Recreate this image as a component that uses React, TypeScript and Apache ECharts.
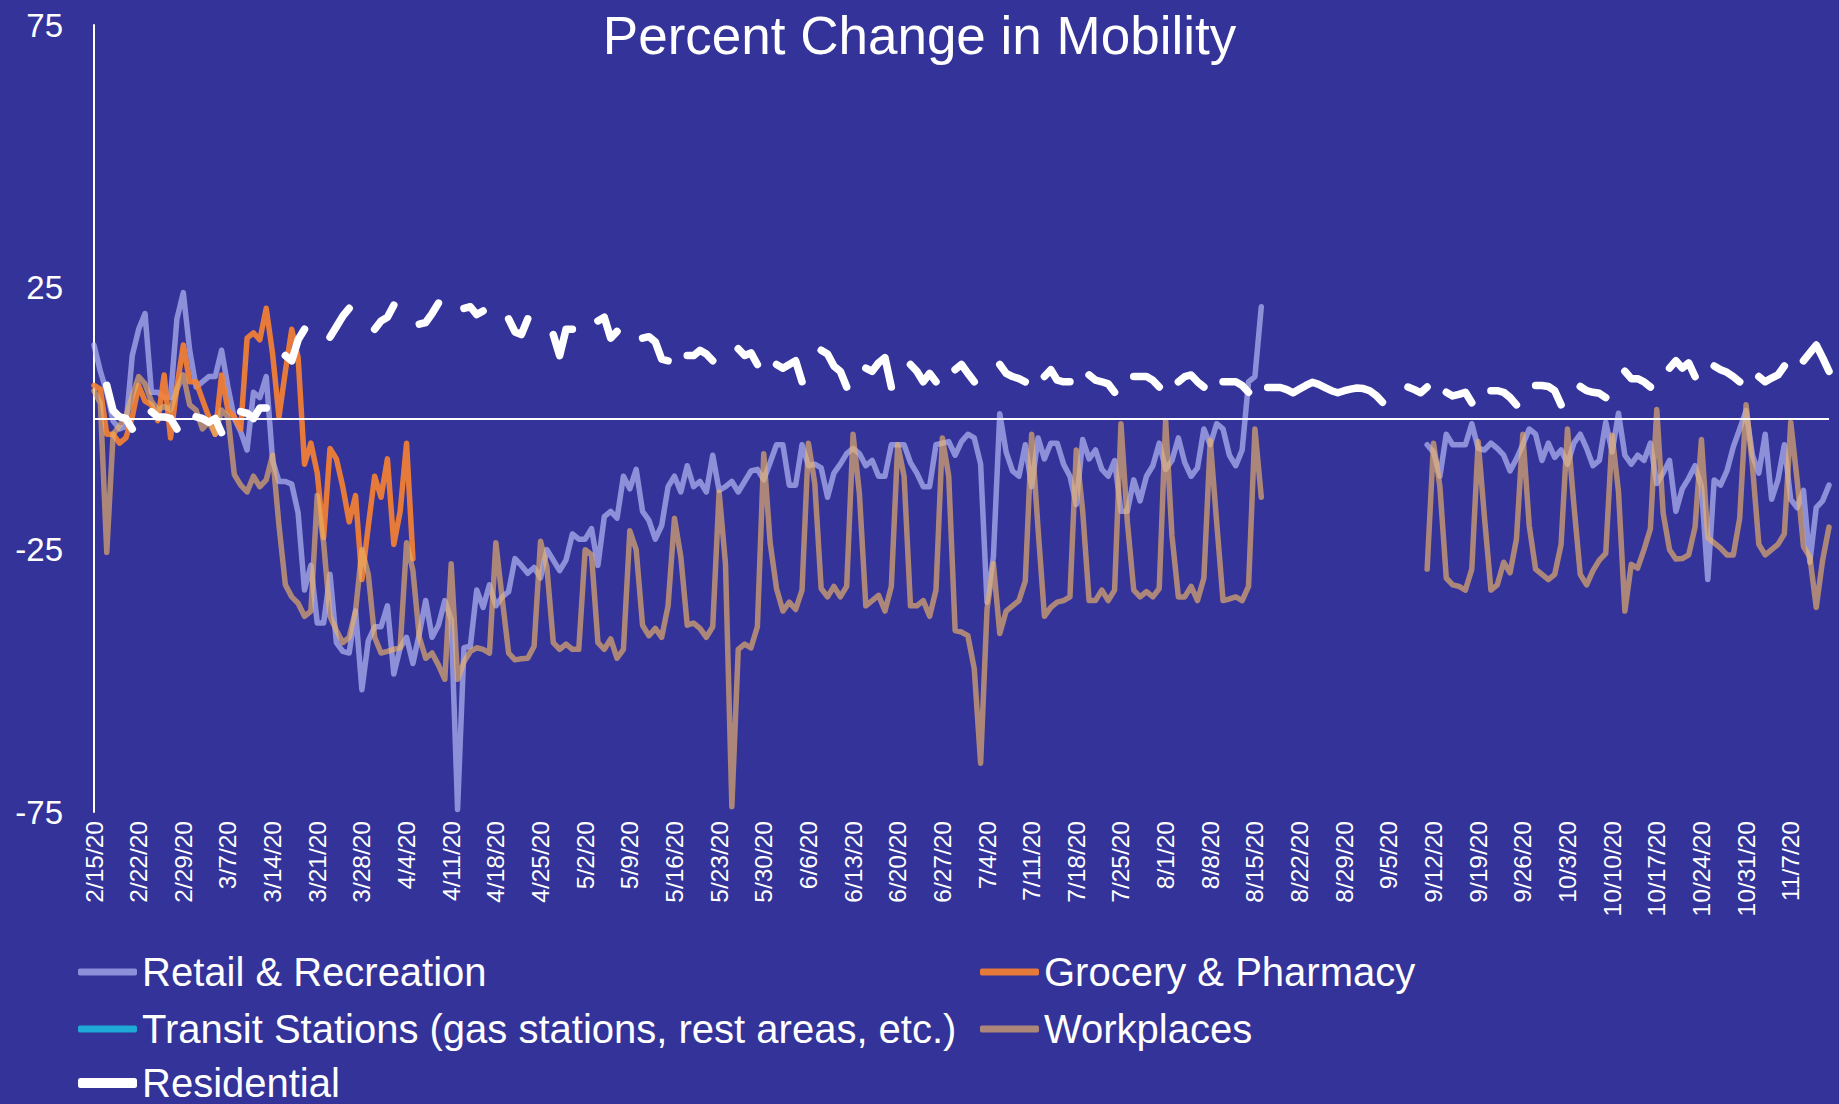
import React, { useEffect, useRef } from 'react';
import * as echarts from 'echarts';

// ---------- categories (daily, 2/15/20 .. 11/13/20) ----------
const DAY_COUNT = 273;
const dates: string[] = Array.from({ length: DAY_COUNT }, (_, i) => {
  const d = new Date(2020, 1, 15 + i);
  return `${d.getMonth() + 1}/${d.getDate()}/20`;
});

// ---------- series values (one row = one week, Sat..Fri) ----------
const retail: (number | null)[] = [
  14, 9, 5, -0.5, -2, -1.5, 12,
  17, 20, 5, 5, 4, 4, 19,
  24, 13, 6, 7, 8, 8, 13,
  6, 0, -2.5, -6, 5, 4, 8,
  -8, -12, -12, -12.5, -18, -32.7, -28,
  -39, -39, -29.7, -42.7, -44.4, -44.7, -36.7,
  -51.7, -42.4, -39.7, -39.7, -35.7, -48.7, -43.7,
  -41.7, -46.7, -41, -34.7, -41.7, -39.4, -34.7,
  -38.4, -74.5, -43.7, -43.4, -32.7, -36, -31.7,
  -35.7, -34, -33, -26.7, -28, -29.5, -28.4,
  -30.4, -25, -27, -29, -27, -22, -23,
  -23, -21, -28, -18.7, -17.7, -19, -11,
  -13.4, -9.7, -17.7, -19.4, -23, -20.4, -13,
  -11, -14, -9, -13, -12, -14, -7,
  -13.7, -13, -12, -14, -12, -10, -9.7,
  -11.7, -8.4, -5, -5, -12.7, -12.7, -5,
  -9, -8.7, -9.4, -15, -10.4, -8.7, -6.7,
  -5.7, -6.7, -9, -8, -11, -11, -5,
  -5, -5, -8.4, -10.4, -13, -13, -5,
  -4.7, -4.4, -7, -4.4, -3, -3.7, -8.7,
  -35, -26.4, 0.9, -6.4, -10, -11, -5,
  -13, -3.7, -7.7, -4.7, -4.7, -8.7, -11,
  -16.4, -4, -7.7, -6, -9.7, -11, -8,
  -17.7, -17.7, -11.7, -15.7, -11, -9, -4.7,
  -9.7, -8, -3.7, -8.4, -11, -9.4, -2,
  -5, -1, -2, -7, -9, -6, 7,
  8, 21.3, null, null, null, null, null,
  null, null, null, null, null, null, null,
  null, null, null, null, null, null, null,
  null, null, null, null, null, null, -5,
  -6.4, -11, -3, -5, -5, -5, -1,
  -5.7, -6, -4.7, -5.7, -7, -10, -7.7,
  -5, -2, -3, -8, -4.7, -7.4, -6,
  -8.7, -4.7, -3, -5.7, -9, -8, -0.7,
  -6.4, 1, -7, -8.7, -7, -8, -4.7,
  -12.4, -10.4, -8, -17.7, -13.4, -11.4, -9,
  -13, -30.7, -11.7, -12.7, -10, -5.4, -2,
  1.5, -7, -10.4, -3, -15.4, -11.7, -5,
  -15.4, -17, -13.7, -27.4, -17, -15.7, -12.7,
];

const grocery: (number | null)[] = [
  6.3, 5.6, -3, -3, -4.7, -3.7, 0.3,
  6.3, 3.3, 2.6, -0.4, 8.3, -3.7, 6,
  14, 7, 7, 3.6, 0.3, -3, 8.3,
  1.6, 0.3, -2, 15.3, 16.3, 15, 21,
  12.3, 0.3, 9, 17, 11.6, -8.7, -4.7,
  -10.4, -22.7, -5.7, -7.7, -13, -19.7, -14.7,
  -30.7, -20.5, -11, -15, -7.7, -24, -17.7,
  -4.7, -26.7,
];

const transit: (number | null)[] = [];

const workplaces: (number | null)[] = [
  5.3, 2.9, -25.5, -3, -1.4, 0.3, 4.3,
  8, 6.6, 3.3, 1.6, 2.3, 1.6, 5.6,
  8.3, 2.6, 1.6, -2, -0.7, -3, 1.6,
  0.3, -10.7, -12.7, -14, -11, -13, -11.7,
  -7, -20.4, -31.7, -34, -35.2, -37.7, -36.7,
  -14.7, -23.7, -37.7, -40.4, -42.7, -41.7, -36.7,
  -25, -29.7, -41.7, -44.7, -44.4, -44, -43.7,
  -23.7, -29, -41.7, -45.7, -44.7, -47, -49.7,
  -27.7, -49.7, -46.4, -44.4, -43.7, -44, -44.7,
  -23.7, -34.4, -44.7, -46, -45.8, -45.7, -43.4,
  -23.4, -28.4, -42.7, -44, -43, -44, -44,
  -25, -26, -42.7, -44, -42, -45.7, -44,
  -21.4, -25, -39.4, -41.4, -40, -41.7, -35.7,
  -19, -26.4, -39.4, -39, -40, -41.7, -39.7,
  -14, -27.7, -74, -44, -43, -43.7, -39.7,
  -6.7, -23.7, -32.4, -36.7, -35, -36.4, -32.7,
  -4.7, -12.4, -32.4, -34, -32, -34, -32,
  -3, -14.4, -35.7, -34.7, -33.7, -36.7, -32,
  -5, -11, -35.7, -35.7, -34.7, -37.7, -32.7,
  -3.7, -11, -40.4, -40.7, -41.4, -47.7, -65.7,
  -36.4, -27.7, -41, -36.7, -35.7, -34.7, -31,
  -3, -21, -37.7, -36, -35, -34.7, -34,
  -6, -17.7, -34.7, -34.7, -32.7, -34.7, -32.7,
  -1, -19.7, -32.7, -34, -33, -34, -32.4,
  -0.4, -22.4, -34, -34, -32, -34.7, -30.4,
  -4.2, -19.7, -34.7, -34.4, -34, -34.7, -32,
  -2, -15, null, null, null, null, null,
  null, null, null, null, null, null, null,
  null, null, null, null, null, null, null,
  null, null, null, null, null, null, -28.7,
  -4.7, -13, -30.4, -31.7, -32, -32.7, -28.7,
  -4.4, -19, -32.7, -31.7, -27.4, -29.4, -23,
  -3, -20.4, -28.7, -29.7, -30.7, -29.7, -24,
  -2, -16.4, -29.7, -31.7, -29, -27, -25.7,
  -3.2, -14, -36.7, -27.8, -28.5, -25, -21,
  1.7, -18, -25, -26.8, -26.7, -26, -20.7,
  -4, -22.7, -23.7, -24.7, -26, -26, -19,
  2.6, -9, -24, -26, -25, -24, -22,
  -0.7, -11.7, -24.4, -26.4, -36, -27, -20.7,
];

const residential: (number | null)[] = [
  null, null, 6.3, 1.5, 0.3, 0, -2,
  null, null, 1.3, 0.3, 0.3, 0, -2,
  null, null, 0.3, 0, -0.7, 0, -2.7,
  null, null, 1.3, 1, 0, 2, 2,
  null, null, 12, 11, 15, 17, null,
  null, null, 15.5, 17.5, 19.5, 21, null,
  null, null, 17, 18.6, 19.3, 21.6, null,
  null, null, 18, 18.3, 20, 22, null,
  null, null, 21, 21.3, 19.8, 20.5, null,
  null, null, 19, 16.5, 16, 19, null,
  null, null, 16, 12, 17, 17, null,
  null, null, 18.6, 19.3, 15.3, 16.6, null,
  null, null, 15.3, 15.6, 14.6, 11.3, 11,
  null, null, 12, 12, 13, 12.3, 11,
  null, null, null, 13.3, 12, 12.5, 10.3,
  null, null, 10.3, 9.6, 10.3, 11, 7,
  null, null, 13, 12.3, 10, 9, 6,
  null, null, 9.6, 9, 10.6, 11.6, 6,
  null, null, 10.3, 9, 7, 8.6, 7,
  null, null, 9.3, 10.3, 8.6, 7, null,
  null, null, 10.3, 8.6, 8, 7.6, 7,
  null, null, 8, 9.3, 7.3, 7, 7,
  null, null, 8.3, 7.3, 7, 6.6, 5,
  null, null, 8, 8, 8, 7.3, 6,
  null, null, 7, 8, 8.3, 7, 6,
  null, null, 7, 7, 7, 6.3, 5,
  null, null, 5.9, 5.9, 5.9, 5.5, 4.9,
  5.6, 6.3, 6.9, 6.5, 5.9, 5.3, 4.9,
  5.3, 5.6, 5.8, 5.7, 5.3, 4.4, 3.1,
  null, null, null, 6, 5.5, 4.9, 6,
  null, null, 5, 4.3, 4.6, 5, 3,
  null, null, 5.3, 5.3, 5, 4, 2.6,
  null, null, 6.3, 6.3, 6.1, 5.3, 2.6,
  null, null, 6.1, 5.3, 5, 4.8, 4,
  null, null, 9, 7.6, 7.6, 7, 6,
  null, null, 9.6, 11, 9.6, 10.6, 8,
  null, null, 10, 9.3, 8.8, 8, 7,
  null, null, 8, 7, 7.7, 8.3, 10,
  null, null, 11, 12.5, 14, 11.6, 9,
];

const yTicks = { min: -75, max: 75, interval: 50 };

// ---------- styling ----------
const FONT = '"Liberation Sans", Arial, Helvetica, sans-serif';
const BG = '#333399';
const C_RETAIL = 'rgba(195,198,255,0.63)';
const C_GROCERY = 'rgba(248,130,48,0.9)';
const C_TRANSIT = '#1FA9D6';
const C_WORK = 'rgba(235,178,103,0.66)';
const C_RES = '#FFFFFF';

function lineSeries(name: string, data: (number | null)[], color: string, width: number, extra: any = {}) {
  return {
    name,
    type: 'line',
    data,
    symbol: 'none',
    showSymbol: false,
    connectNulls: false,
    emphasis: { disabled: true },
    lineStyle: { color, width, cap: 'round', join: 'round' },
    itemStyle: { color },
    ...extra,
  };
}

export default function App() {
  const ref = useRef<HTMLDivElement>(null);

  useEffect(() => {
    document.body.style.margin = '0';
    if (!ref.current) return;
    const chart = echarts.init(ref.current, undefined, { renderer: 'svg' });

    const legendBase = {
      orient: 'horizontal',
      itemWidth: 59,
      itemHeight: 7,
      icon: 'roundRect',
      padding: 0,
      selectedMode: false,
      textStyle: { color: '#fff', fontSize: 40, fontFamily: FONT },
    };

    chart.setOption({
      animation: false,
      backgroundColor: BG,
      textStyle: { fontFamily: FONT },
      title: {
        text: 'Percent Change in Mobility',
        left: 'center',
        top: 4,
        textStyle: { color: '#fff', fontSize: 53, fontWeight: 'normal', fontFamily: FONT },
      },
      grid: { left: 94, right: 10, top: 25, bottom: 292, containLabel: false },
      xAxis: {
        type: 'category',
        data: dates,
        boundaryGap: false,
        axisLine: { show: false, onZero: false },
        axisTick: { show: false },
        splitLine: { show: false },
        axisLabel: {
          interval: 6,
          rotate: 90,
          color: '#fff',
          fontSize: 24.5,
          margin: 9,
          fontFamily: FONT,
        },
      },
      yAxis: {
        type: 'value',
        min: yTicks.min,
        max: yTicks.max,
        interval: yTicks.interval,
        axisLine: { show: true, lineStyle: { color: '#fff', width: 2 } },
        axisTick: { show: false },
        splitLine: { show: false },
        axisLabel: { color: '#fff', fontSize: 33, margin: 31, fontFamily: FONT },
      },
      legend: [
        { ...legendBase, left: 78, top: 952, data: ['Retail & Recreation'] },
        { ...legendBase, left: 980, top: 952, data: ['Grocery & Pharmacy'] },
        { ...legendBase, left: 78, top: 1009, data: ['Transit Stations (gas stations, rest areas, etc.)'] },
        { ...legendBase, left: 980, top: 1009, data: ['Workplaces'] },
        { ...legendBase, left: 78, top: 1063, itemHeight: 10, data: ['Residential'] },
      ],
      series: [
        lineSeries('Retail & Recreation', retail, C_RETAIL, 5.5, {
          markLine: {
            silent: true,
            symbol: ['none', 'none'],
            label: { show: false },
            lineStyle: { color: '#fff', width: 2, type: 'solid', opacity: 1 },
            data: [{ yAxis: 0 }],
          },
        }),
        lineSeries('Grocery & Pharmacy', grocery, C_GROCERY, 5.5),
        lineSeries('Transit Stations (gas stations, rest areas, etc.)', transit, C_TRANSIT, 5.5),
        lineSeries('Workplaces', workplaces, C_WORK, 5.5),
        lineSeries('Residential', residential, C_RES, 7.5),
      ],
    });

    return () => {
      chart.dispose();
    };
  }, []);

  return <div ref={ref} style={{ width: 1839, height: 1104, position: 'absolute', left: 0, top: 0 }} />;
}
